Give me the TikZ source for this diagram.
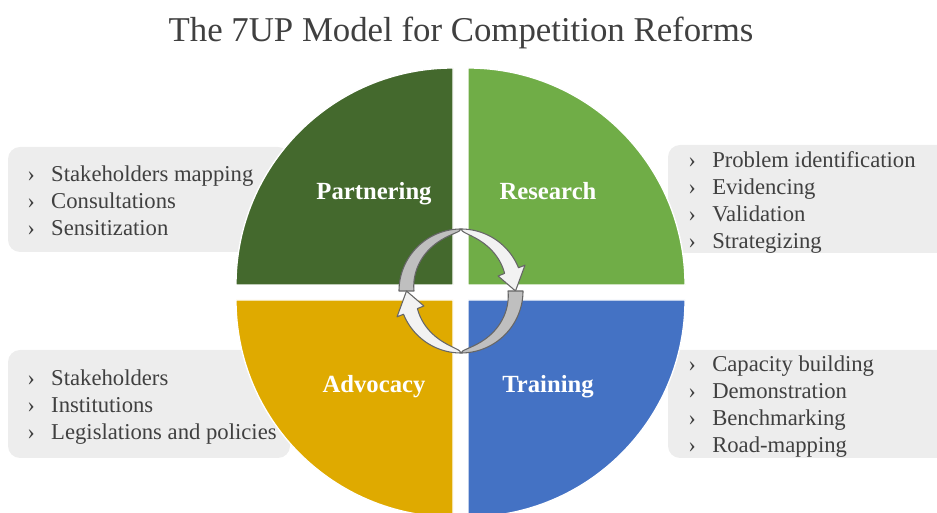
\documentclass[tikz,border=0pt]{standalone}
\usepackage{fontspec}
\setmainfont{Liberation Serif}
\usepackage{xcolor}
\usetikzlibrary{positioning}

\definecolor{partgreen}{HTML}{44692D}
\definecolor{resgreen}{HTML}{70AD47}
\definecolor{advgold}{HTML}{DFAA00}
\definecolor{trainblue}{HTML}{4472C4}
\definecolor{boxgray}{HTML}{EDEDED}
\definecolor{txtgray}{HTML}{404040}
\definecolor{arrdark}{HTML}{BFBFBF}
\definecolor{arrlight}{HTML}{F2F2F2}
\definecolor{arrline}{HTML}{666666}

\newcommand{\bul}{\makebox[18pt][l]{›}}

\begin{document}
\begin{tikzpicture}[
    x=0.75pt, y=0.75pt,
    listbox/.style={fill=boxgray, rounded corners=9pt},
    quad/.style={draw=white, line width=1pt},
    qlabel/.style={anchor=base, text=white, font=\fontsize{18.5}{22}\selectfont\bfseries},
    item/.style={anchor=base west, inner sep=0pt, text=txtgray, font=\fontsize{17}{20}\selectfont},
    darr/.style={fill=arrdark, draw=arrline, line width=0.8pt, line join=round},
    larr/.style={fill=arrlight, draw=arrline, line width=0.8pt, line join=round}
]
\useasboundingbox (0,0) rectangle (937,513);
\clip (0,0) rectangle (937,513);

% Radius of the quarter discs
\def\rad{217}

% === Title ===
\node[anchor=base, text=txtgray, font=\fontsize{26.1}{30}\selectfont] (title) at (461,471)
    {The 7UP Model for Competition Reforms};

% === Grey boxes behind the disc ===
\fill[listbox] (8,261) rectangle (290,366);
\fill[listbox] (668,260) rectangle (960,368);
\fill[listbox] (8,55) rectangle (290,163);
\fill[listbox] (668,55) rectangle (960,163);

% === Quarter discs ===
\fill[quad, fill=partgreen] (453,228) -- ++(-\rad,0) arc[start angle=180, end angle=90, radius=\rad] -- cycle;
\fill[quad, fill=resgreen] (468,228) -- ++(0,\rad) arc[start angle=90, end angle=0, radius=\rad] -- cycle;
\fill[quad, fill=advgold] (453,213) -- ++(-\rad,0) arc[start angle=180, end angle=270, radius=\rad] -- cycle;
\fill[quad, fill=trainblue] (468,213) -- ++(\rad,0) arc[start angle=0, end angle=-90, radius=\rad] -- cycle;

\node[qlabel] (part) at (374,313) {Partnering};
\node[qlabel] (res) at (548,313) {Research};
\node[qlabel] (adv) at (374,120) {Advocacy};
\node[qlabel] (train) at (548,120) {Training};

% === Cycle arrows in the middle ===
\begin{scope}[shift={(461,222)}]
  \filldraw[darr] plot[domain=180:90, samples=50] (\x:62)
      -- plot[domain=90:180, samples=50] (\x:{62-15*sqrt((\x-90)/90)}) -- cycle;
  \filldraw[larr] plot[domain=90:22, samples=50] (\x:62)
      -- (22:69) -- (0:54.5) -- (22:40)
      -- plot[domain=22:90, samples=50] (\x:{62-15*sqrt((90-\x)/68)}) -- cycle;
\end{scope}
\begin{scope}[shift={(461,222)}, rotate=180]
  \filldraw[darr] plot[domain=180:90, samples=50] (\x:62)
      -- plot[domain=90:180, samples=50] (\x:{62-15*sqrt((\x-90)/90)}) -- cycle;
  \filldraw[larr] plot[domain=90:22, samples=50] (\x:62)
      -- (22:69) -- (0:54.5) -- (22:40)
      -- plot[domain=22:90, samples=50] (\x:{62-15*sqrt((90-\x)/68)}) -- cycle;
\end{scope}

% === Partnering list ===
\node[item] (p1) at (27,331) {\bul Stakeholders mapping};
\node[item] (p2) at (27,304) {\bul Consultations};
\node[item] (p3) at (27,277) {\bul Sensitization};

% === Research list ===
\node[item] (r1) at (688,345) {\bul Problem identification};
\node[item] (r2) at (688,318) {\bul Evidencing};
\node[item] (r3) at (688,291) {\bul Validation};
\node[item] (r4) at (688,264) {\bul Strategizing};

% === Advocacy list ===
\node[item] (a1) at (27,127) {\bul Stakeholders};
\node[item] (a2) at (27,100) {\bul Institutions};
\node[item] (a3) at (27,73) {\bul Legislations and policies};

% === Training list ===
\node[item] (t1) at (688,141) {\bul Capacity building};
\node[item] (t2) at (688,114) {\bul Demonstration};
\node[item] (t3) at (688,87) {\bul Benchmarking};
\node[item] (t4) at (688,60) {\bul Road-mapping};

\end{tikzpicture}
\end{document}
